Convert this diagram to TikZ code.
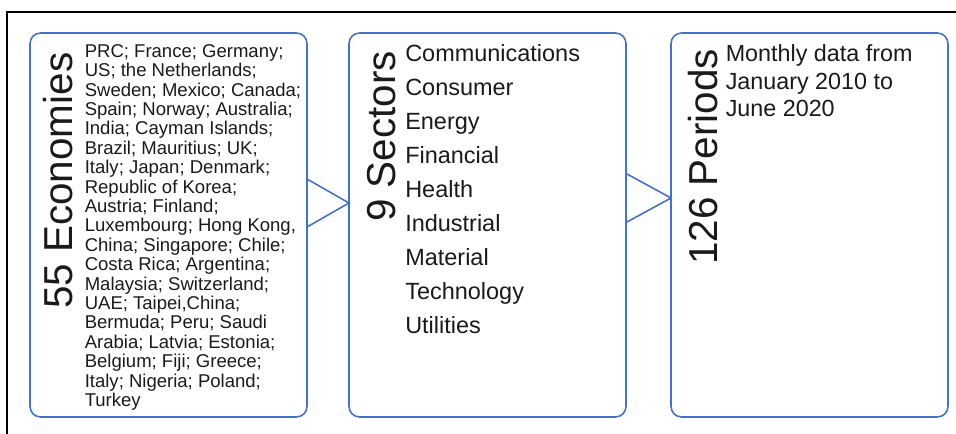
\documentclass[tikz,border=0pt]{standalone}
\usepackage{fontspec}
\setmainfont{Liberation Sans}
\definecolor{boxblue}{HTML}{4472C4}
\definecolor{txt}{HTML}{1A1A1A}
\begin{document}
\begin{tikzpicture}[x=0.75pt,y=-0.75pt,
  box/.style={draw=boxblue,line width=1.2pt,rounded corners=8pt,minimum width=207.75pt,minimum height=288pt,inner sep=0pt},
  title/.style={rotate=90,anchor=base west,inner sep=0pt,text=txt,font=\fontsize{30.3}{36}\selectfont},
  small/.style={anchor=base west,inner sep=0pt,text=txt,font=\fontsize{13.9}{14.55}\selectfont},
  sect/.style={anchor=base west,inner sep=0pt,text=txt,font=\fontsize{17.6}{25.5}\selectfont},
  per/.style={anchor=base west,inner sep=0pt,text=txt,font=\fontsize{17.5}{20.6}\selectfont},
  tri/.style={draw=boxblue,line width=1.2pt,line join=miter}]
\useasboundingbox (0,0) rectangle (956,434);
\draw[line width=0.8pt] (7,434) -- (7,12) -- (956,12);
\node[box] (b1) at (168.5,225) {};
\node[box] (b2) at (487.5,225) {};
\node[box] (b3) at (809.5,225) {};
\coordinate (p1a) at (307,179);
\coordinate (p1b) at (307,227);
\coordinate (p1c) at (349,203);
\coordinate (p2a) at (627,174);
\coordinate (p2b) at (627,222);
\coordinate (p2c) at (671,198);
\draw[tri] (p1a) -- (p1c) -- (p1b);
\draw[tri] (p2a) -- (p2c) -- (p2b);
\node[title] (t1) at (72,309) {55 Economies};
\node[small] (l1) at (84.5,57.3) {\begin{tabular}[t]{@{}l@{}}
PRC; France; Germany;\\
US; the Netherlands;\\
Sweden; Mexico; Canada;\\
Spain; Norway; Australia;\\
India; Cayman Islands;\\
Brazil; Mauritius; UK;\\
Italy; Japan; Denmark;\\
Republic of Korea;\\
Austria; Finland;\\
Luxembourg; Hong Kong,\\
China; Singapore; Chile;\\
Costa Rica; Argentina;\\
Malaysia; Switzerland;\\
UAE; Taipei,China;\\
Bermuda; Peru; Saudi\\
Arabia; Latvia; Estonia;\\
Belgium; Fiji; Greece;\\
Italy; Nigeria; Poland;\\
Turkey
\end{tabular}};
\node[title] (t2) at (395,222) {9 Sectors};
\node[sect] (l2) at (405,61.7) {\begin{tabular}[t]{@{}l@{}}
Communications\\
Consumer\\
Energy\\
Financial\\
Health\\
Industrial\\
Material\\
Technology\\
Utilities
\end{tabular}};
\node[title] (t3) at (717,265) {126 Periods};
\node[per] (l3) at (725.5,61.7) {\begin{tabular}[t]{@{}l@{}}
Monthly data from\\
January 2010 to\\
June 2020
\end{tabular}};
\end{tikzpicture}
\end{document}
